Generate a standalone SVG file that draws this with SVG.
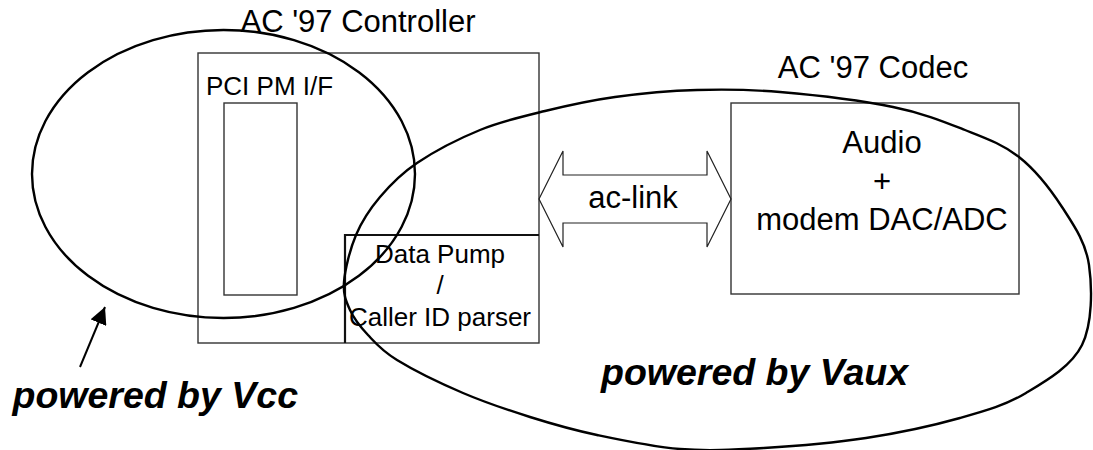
<svg xmlns="http://www.w3.org/2000/svg" width="1093" height="450" viewBox="0 0 1093 450">
  <defs>
    <style>
      .box { fill: none; stroke: #333; stroke-width: 1.4; }
      .edge { fill: none; stroke: #111; stroke-width: 2.2; }
      .zone { fill: none; stroke: #000; stroke-width: 2.4; stroke-linejoin: round; }
      .lbl { font-family: "Liberation Sans", Arial, sans-serif; fill: #000; }
      .big { font-size: 31px; }
      .small { font-size: 26px; }
      .power { font-size: 37.5px; font-weight: bold; font-style: italic; }
      .mid { text-anchor: middle; }
    </style>
    <marker id="head" viewBox="0 0 10 10" refX="10" refY="5" markerWidth="8.5" markerHeight="8.5" markerUnits="strokeWidth" orient="auto">
      <path d="M0,0 L10,5 L0,10 Z" fill="#000"/>
    </marker>
  </defs>

  <!-- AC '97 controller block -->
  <g id="controller">
    <rect class="box" x="198" y="53" width="341" height="290"/>
    <text class="lbl big mid" x="358" y="32">AC '97 Controller</text>
  </g>

  <g id="pci-pm">
    <rect class="box" x="224" y="103" width="73" height="192"/>
    <text class="lbl small" x="206" y="95">PCI PM I/F</text>
  </g>

  <g id="data-pump">
    <path class="edge" d="M539,235 H345 V343"/>
    <text class="lbl small mid" x="440" y="263">Data Pump</text>
    <text class="lbl small mid" x="440" y="294">/</text>
    <text class="lbl small mid" x="440" y="326">Caller ID parser</text>
  </g>

  <!-- AC '97 codec block -->
  <g id="codec">
    <rect class="box" x="731" y="103" width="288" height="191"/>
    <text class="lbl big mid" x="873" y="78">AC '97 Codec</text>
    <text class="lbl big mid" x="882" y="153">Audio</text>
    <text class="lbl big mid" x="882" y="192">+</text>
    <text class="lbl big mid" x="882" y="230">modem DAC/ADC</text>
  </g>

  <!-- connectors -->
  <g id="connectors">
    <g id="ac-link">
      <polygon fill="none" stroke="#222" stroke-width="1.2" points="539,199 563,151 563,175 707,175 707,151 731,199 707,247 707,223 563,223 563,247"/>
      <text class="lbl big mid" x="633" y="208">ac-link</text>
    </g>
    <line x1="80" y1="367" x2="105" y2="307" stroke="#000" stroke-width="2" marker-end="url(#head)"/>
  </g>

  <!-- power domains -->
  <g id="vcc-domain">
    <ellipse class="zone" cx="223.5" cy="174" rx="191.5" ry="144"/>
    <text class="lbl power" x="12.5" y="408">powered by Vcc</text>
  </g>

  <g id="vaux-domain">
    <path class="zone" d="M344,282 C345,269.5 350,249.2 356,235 C362,220.8 369.8,209 380,197 C390.2,185 400.3,174.2 417,163 C433.7,151.8 458.7,138.7 480,130 C501.3,121.3 522.5,116.5 545,111 C567.5,105.5 589.7,100.5 615,97 C640.3,93.5 669.5,90.8 697,90 C724.5,89.2 747.3,89.2 780,92 C812.7,94.8 862.2,100.7 893,107 C923.8,113.3 944,121.7 965,130 C986,138.3 1002.8,144.2 1019,157 C1035.2,169.8 1050.3,189 1062,207 C1073.7,225 1085.7,242 1089,265 C1092.3,288 1092.5,323.7 1082,345 C1071.5,366.3 1046.3,380.8 1026,393 C1005.7,405.2 986.7,410.5 960,418 C933.3,425.5 898.7,433 866,438 C833.3,443 795,446.2 764,448 C733,449.8 707.8,451.2 680,449 C652.2,446.8 622,440.3 597,435 C572,429.7 552.3,424 530,417 C507.7,410 485.2,402.5 463,393 C440.8,383.5 412.8,369.7 397,360 C381.2,350.3 375.8,343.3 368,335 C360.2,326.7 354,318.8 350,310 C346,301.2 343,294.5 344,282 Z"/>
    <text class="lbl power" x="601" y="385">powered by Vaux</text>
  </g>
</svg>
